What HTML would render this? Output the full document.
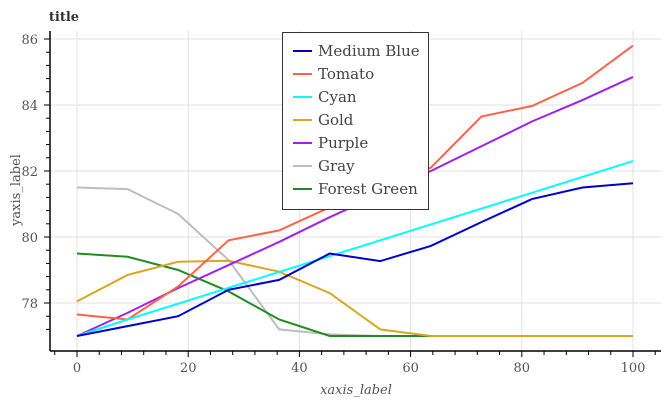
<!DOCTYPE html>
<html><head><meta charset="utf-8"><style>
body{margin:0;background:#fff}
svg{display:block;font-family:"DejaVu Serif","Liberation Serif",serif}
</style></head><body>
<svg id="c" width="666" height="400"></svg>
<script>
const xs=[0,9.09,18.18,27.27,36.36,45.45,54.55,63.64,72.73,81.82,90.91,100];
const seriesNames=["Medium Blue","Tomato","Cyan","Gold","Purple","Gray","Forest Green"];
const seriesColors=["#0000cd","#ff6347","#00ffff","#daa520","#a020f0","#bebebe","#228b22"];
const medBlue=[77.0,77.3,77.6,78.4,78.7,79.5,79.27,79.73,80.45,81.15,81.5,81.63];
const tomato=[77.65,77.5,78.5,79.9,80.2,80.9,81.5,82.1,83.65,83.97,84.67,85.8];
const cyan=[77,77.5,77.98,78.46,78.94,79.42,79.9,80.38,80.86,81.34,81.82,82.3];
const gold=[78.05,78.85,79.25,79.28,78.95,78.3,77.2,77,77,77,77,77];
const purple=[77,77.7,78.45,79.15,79.85,80.6,81.3,82.0,82.75,83.5,84.15,84.85];
const gray=[81.5,81.45,80.7,79.3,77.2,77.05,77,77,77,77,77,77];
const green=[79.5,79.4,79.0,78.35,77.5,77.0,77,77,77,77,77,77];
const yTicks=[78,80,82,84,86];
const xTicks=[0,20,40,60,80,100];
const drawOrder=[5,6,3,4,1,2,0];
const allSeries=[medBlue,tomato,cyan,gold,purple,gray,green];
const NS="http://www.w3.org/2000/svg",svg=document.getElementById('c');
const X=v=>77+v*5.56, Y=v=>237-(v-80)*33;
function mk(t,a,p){const e=document.createElementNS(NS,t);for(const k in a)e.setAttribute(k,a[k]);(p||svg).appendChild(e);return e;}
// gridlines
for(const t of xTicks){const g=mk('line',{x1:X(t),x2:X(t),y1:31,y2:351,stroke:'#e0e0e0'});

}
for(const t of yTicks){const g=mk('line',{x1:50,x2:661,y1:Y(t),y2:Y(t),stroke:'#e0e0e0'});

}
// series
for(const i of drawOrder){const d=allSeries[i];
const p=mk('polyline',{points:d.map((v,j)=>X(xs[j])+','+Y(v)).join(' '),fill:'none',stroke:seriesColors[i],'stroke-width':2});

}
// axes
const ax=mk('line',{x1:50,x2:50,y1:31,y2:351,stroke:'#000','stroke-width':1.5});


const bx=mk('line',{x1:50,x2:661,y1:351,y2:351,stroke:'#000','stroke-width':1.5});


for(let v=77.2;v<=86.3;v+=0.4){const maj=yTicks.some(t=>Math.abs(t-v)<0.01);mk('line',{x1:maj?44:46,x2:50,y1:Y(v),y2:Y(v),stroke:'#000'});}
for(let v=-12;v<=104;v+=4){if(X(v)<52)continue;const maj=xTicks.includes(v);mk('line',{x1:X(v),x2:X(v),y1:351,y2:maj?357:355,stroke:'#000'});}
for(const t of yTicks){const e=mk('text',{x:38,y:Y(t)+5,'text-anchor':'end','font-size':13,fill:'#555'});e.textContent=t;

}
for(const t of xTicks){const e=mk('text',{x:X(t),y:372,'text-anchor':'middle','font-size':13,fill:'#555'});e.textContent=t;

}
// legend
const lb=mk('rect',{x:282.5,y:32.5,width:146,height:177,fill:'#fff',stroke:'#333'});


seriesNames.forEach((n,i)=>{const y=51+i*23;
mk('line',{x1:293,x2:312,y1:y,y2:y,stroke:seriesColors[i],'stroke-width':2});
const t=mk('text',{x:318,y:y+5,'font-size':15,fill:'#444'});t.textContent=n;

});
</script>
<svg style="position:absolute;left:0;top:0" width="666" height="400">
<text x="64" y="21" text-anchor="middle" font-size="13" font-weight="bold" fill="#333" font-family="DejaVu Serif,serif">title</text>
<text transform="translate(20,190) rotate(-90)" text-anchor="middle" font-size="13" fill="#555" font-family="DejaVu Serif,serif">yaxis_label</text>
<text x="356" y="394" text-anchor="middle" font-size="13" font-style="italic" fill="#555" font-family="DejaVu Serif,serif">xaxis_label</text>
</svg>
</body></html>
